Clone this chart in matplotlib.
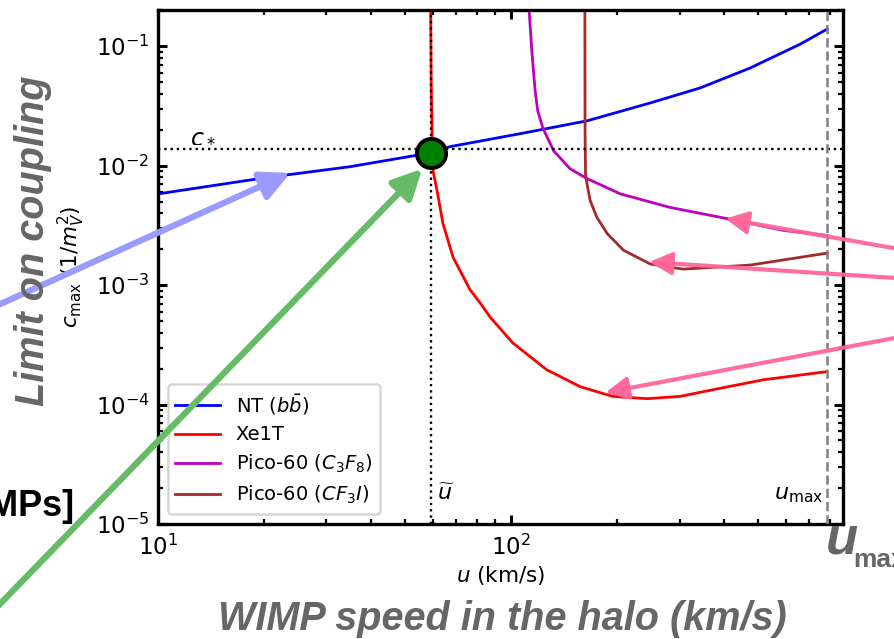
import numpy as np
import matplotlib
matplotlib.use("Agg")
import matplotlib.pyplot as plt

# ---- data ----
u_nt = [10, 20, 35, 59.3, 67, 106, 164, 248, 343, 475, 659, 785]
c_nt = [5.8e-3, 7.9e-3, 9.8e-3, 0.0128, 0.0144, 0.0185, 0.0237, 0.0335, 0.0447, 0.0656, 0.104, 0.139]

u_xe = [59.2, 59.4, 59.8, 60.1, 61.7, 64.1, 68.5, 76.6, 81.7, 87.2, 101, 126, 157, 194, 243, 301, 373, 517, 778]
c_xe = [0.2, 0.05, 0.015, 9.1e-3, 6.2e-3, 3.29e-3, 1.71e-3, 9.1e-4, 7.1e-4, 5.4e-4, 3.29e-4, 1.96e-4, 1.41e-4,
        1.17e-4, 1.12e-4, 1.17e-4, 1.33e-4, 1.61e-4, 1.88e-4]

u_c3f8 = [112.5, 114.5, 117, 119, 123, 132, 147, 164, 204, 282, 409, 590, 785]
c_c3f8 = [0.2, 0.0908, 0.0422, 0.0287, 0.0207, 0.0133, 9.4e-3, 7.8e-3, 5.8e-3, 4.47e-3, 3.6e-3, 2.87e-3, 2.6e-3]

u_cf3i = [161.8, 162, 162.5, 164, 167.5, 175, 187, 208, 248, 307, 475, 785]
c_cf3i = [0.2, 0.02, 0.0085, 7.1e-3, 5.1e-3, 3.69e-3, 2.71e-3, 1.96e-3, 1.5e-3, 1.36e-3, 1.47e-3, 1.85e-3]

labels = [r'NT ($b\bar{b}$)', 'Xe1T', r'Pico-60 ($C_3F_8$)', r'Pico-60 ($CF_3I$)']
colors = ['blue', 'red', 'm', 'brown']

u_tilde = 59.3
u_max = 785
c_star = 0.0139
c_point = 0.0128

# arrow targets (data coords) and tails (figure fraction)
blue_tip, blue_tail = (23.7, 8.7e-3), (-0.03, 0.505)
green_tip, green_tail = (56, 9.4e-3), (-0.022, 0.023)
pink_tips = [(404, 3.6e-3), (246, 1.56e-3), (185, 1.26e-4)]
pink_tails = [(1.022, 0.606), (1.022, 0.563), (1.022, 0.477)]

fig = plt.figure(figsize=(8.95, 6.39), dpi=100)
ax = fig.add_axes([0.1765, 0.180, 0.7654, 0.804])

for uu, cc, lab, col in zip([u_nt, u_xe, u_c3f8, u_cf3i], [c_nt, c_xe, c_c3f8, c_cf3i], labels, colors):
    ax.plot(uu, cc, color=col, lw=2.0, label=lab)

ax.axhline(c_star, color='k', ls=':', lw=1.7, zorder=3)
ax.axvline(u_tilde, color='k', ls=':', lw=1.7, zorder=3)
ax.axvline(u_max, color='gray', ls='--', lw=1.8, zorder=3)

ax.plot([u_tilde], [c_point], 'o', ms=21, mfc='green', mec='k', mew=2.8, zorder=5)

ax.set_xscale('log')
ax.set_yscale('log')
ax.set_xlim(10, 871)
ax.set_ylim(1e-5, 0.2)

ax.text(12.3, 0.0158, r'$c_*$', fontsize=17)
ax.text(61.5, 1.6e-5, r'$\widetilde{u}$', fontsize=16)
ax.text(765, 1.6e-5, r'$u_{\max}$', fontsize=16, ha='right')

ax.set_xlabel(r'$u$ (km/s)', fontsize=15.5, labelpad=3)
ax.set_ylabel(r'$c_{\max}$ $(1/m_V^2)$', fontsize=15.5, labelpad=6)

ax.tick_params(which='both', direction='in', top=True, right=True, labelsize=16.5)
ax.tick_params(which='major', length=6.5, width=2.2)
ax.tick_params(which='minor', length=3.5, width=1.6)
ax.tick_params(axis='x', pad=8)
ax.tick_params(axis='y', pad=6)
for s in ax.spines.values():
    s.set_linewidth(2.4)

leg = ax.legend(loc='lower left', fontsize=14, handlelength=2.3, labelspacing=0.45,
                borderaxespad=0.5, fancybox=True)
leg.get_frame().set_linewidth(1.8)

# slide overlay annotations
grey = '#666666'
fig.text(0.037, 0.623, 'Limit on coupling', rotation=90, ha='center', va='center',
         fontsize=28.5, fontweight='bold', fontstyle='italic', color=grey, family='Liberation Sans')
fig.text(0.561, 1 - 630 / 639, 'WIMP speed in the halo (km/s)', ha='center', va='baseline',
         fontsize=28.5, fontweight='bold', fontstyle='italic', color=grey, family='Liberation Sans')
fig.text(74 / 895, 1 - 516 / 639, '[WIMPs]', ha='right', va='baseline',
         fontsize=26, fontweight='bold', color='k', family='Liberation Sans')
fig.text(826 / 895, 1 - 553 / 639, 'u', ha='left', va='baseline',
         fontsize=38, fontweight='bold', fontstyle='italic', color=grey, family='Liberation Sans')
fig.text(853 / 895, 1 - 567 / 639, 'max', ha='left', va='baseline',
         fontsize=19, fontweight='bold', color=grey, family='Liberation Sans')

ax.annotate('', xy=blue_tip, xycoords='data', xytext=blue_tail, textcoords='figure fraction',
            arrowprops=dict(arrowstyle='-|>', color='#9a9aff', lw=4.5, mutation_scale=44, shrinkA=0, shrinkB=0),
            annotation_clip=False, zorder=6)
ax.annotate('', xy=green_tip, xycoords='data', xytext=green_tail, textcoords='figure fraction',
            arrowprops=dict(arrowstyle='-|>', color='#66bb66', lw=4.5, mutation_scale=44, shrinkA=0, shrinkB=0),
            annotation_clip=False, zorder=6)
for tip, tail in zip(pink_tips, pink_tails):
    ax.annotate('', xy=tip, xycoords='data', xytext=tail, textcoords='figure fraction',
                arrowprops=dict(arrowstyle='-|>', color='#ff6699', lw=3, mutation_scale=34,
                                shrinkA=0, shrinkB=0, alpha=0.95),
                annotation_clip=False, zorder=6)

fig.savefig('out.png', dpi=100)
